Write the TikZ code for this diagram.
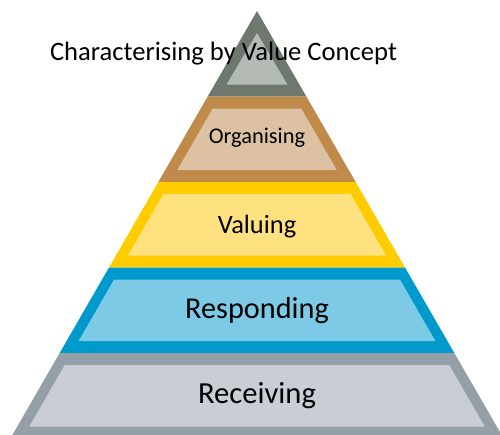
\documentclass[tikz,border=0pt]{standalone}
\usepackage{fontspec}
\setmainfont{Carlito}
\usepackage{xcolor}
\usepackage{tikz}
\usetikzlibrary{positioning,calc}

\definecolor{charout}{HTML}{6E786E}
\definecolor{charin}{HTML}{B4BBB4}
\definecolor{orgout}{HTML}{C08A4B}
\definecolor{orgin}{HTML}{DCC2A3}
\definecolor{valout}{HTML}{FFCC00}
\definecolor{valin}{HTML}{FFE17F}
\definecolor{resout}{HTML}{0099CC}
\definecolor{resin}{HTML}{7CCAE6}
\definecolor{recout}{HTML}{959FA8}
\definecolor{recin}{HTML}{C9CED6}

\begin{document}
\begin{tikzpicture}[x=1pt,y=-1pt,
    lbl/.style={inner sep=0pt,text=black,anchor=base}]
    \useasboundingbox (0,0) rectangle (500,434);
    \clip (0,0) rectangle (500,434);

    % Top triangle
    \fill[charout] (257,11) -- (306.3,96.5) -- (207.7,96.5) -- cycle;
    \fill[charin] (257,33) -- (287.4,84.5) -- (226.6,84.5) -- cycle;

    % Trapezoid layers: top/bottom/outer/inner
    \foreach \ya/\yb/\oc/\ic in {96.5/182/orgout/orgin,
                                182/267.5/valout/valin,
                                267.5/353/resout/resin,
                                353/438.5/recout/recin}{
        \pgfmathsetmacro\wa{0.577*(\ya-11)}
        \pgfmathsetmacro\wb{0.577*(\yb-11)}
        \pgfmathsetmacro\wc{0.577*(\ya+12-11)-12}
        \pgfmathsetmacro\wd{0.577*(\yb-12-11)-12}
        \fill[\oc] (257-\wa,\ya) -- (257+\wa,\ya) -- (257+\wb,\yb) -- (257-\wb,\yb) -- cycle;
        \fill[\ic] (257-\wc,\ya+12) -- (257+\wc,\ya+12) -- (257+\wd,\yb-12) -- (257-\wd,\yb-12) -- cycle;
    }

    % Labels
    \node[lbl] (charlabel) at (223.5,60) {\fontsize{26.6}{30}\selectfont Characterising by Value Concept};
    \node[lbl] (orglabel) at (257,143) {\fontsize{22.4}{26}\selectfont Organising};
    \node[lbl] (vallabel) at (257,233) {\fontsize{26.4}{30}\selectfont Valuing};
    \node[lbl] (reslabel) at (257,318) {\fontsize{30.3}{34}\selectfont Responding};
    \node[lbl] (reclabel) at (257,403) {\fontsize{30.6}{34}\selectfont Receiving};
\end{tikzpicture}
\end{document}
